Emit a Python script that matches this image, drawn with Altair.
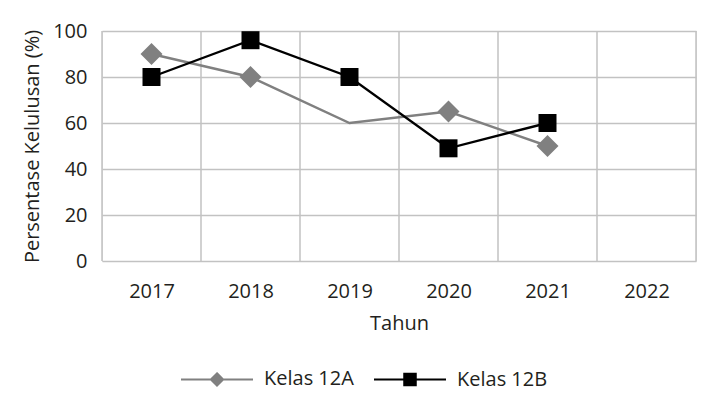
import altair as alt
import pandas as pd

# ---- data ----
years = [2017, 2018, 2019, 2020, 2021, 2022]
data_years = [2017, 2018, 2019, 2020, 2021]
kelas_12a = [90, 80, 60, 65, 50]
kelas_12b = [80, 96, 80, 49, 60]
marker_12a = [True, True, False, True, True]
marker_12b = [True, True, True, True, True]
series_names = ["Kelas 12A", "Kelas 12B"]
series_colors = ["#808080", "#000000"]
y_ticks = [0, 20, 40, 60, 80, 100]

rows = []
for yr, v, m in zip(data_years, kelas_12a, marker_12a):
    rows.append({"year": yr, "value": v, "series": series_names[0], "marker": m})
for yr, v, m in zip(data_years, kelas_12b, marker_12b):
    rows.append({"year": yr, "value": v, "series": series_names[1], "marker": m})
df = pd.DataFrame(rows)

boundaries = [y - 0.5 for y in years] + [years[-1] + 0.5]
grid_df = pd.DataFrame({"year": boundaries})
legend_df = pd.DataFrame({"series": series_names})

FONT = "Open Sans"
TXT = "#231f20"
GRID = "#c2c2c2"

x_enc = alt.X(
    "year:Q",
    scale=alt.Scale(domain=[boundaries[0], boundaries[-1]], nice=False, zero=False),
    axis=alt.Axis(values=years, format="d", grid=False, ticks=False, domain=False,
                  labelPadding=20, title="Tahun", titlePadding=12,
                  labelFontSize=20, titleFontSize=20, titleFontWeight="normal",
                  labelFont=FONT, titleFont=FONT, labelColor=TXT, titleColor=TXT),
)
y_enc = alt.Y(
    "value:Q",
    scale=alt.Scale(domain=[y_ticks[0], y_ticks[-1]], nice=False),
    axis=alt.Axis(values=y_ticks, grid=True, gridColor=GRID, gridWidth=1.5,
                  ticks=False, domain=False, labelPadding=15,
                  title="Persentase Kelulusan (%)", titlePadding=10,
                  labelFontSize=20, titleFontSize=20, titleFontWeight="normal",
                  labelFont=FONT, titleFont=FONT, labelColor=TXT, titleColor=TXT),
)

vgrid = alt.Chart(grid_df).mark_rule(color=GRID, strokeWidth=1.5).encode(x=x_enc)

def series_line(i):
    return alt.Chart(df).transform_filter(
        alt.datum.series == series_names[i]
    ).mark_line(strokeWidth=2.4, color=series_colors[i]).encode(x=x_enc, y=y_enc)

def series_points(i, shape, size):
    return alt.Chart(df).transform_filter(
        (alt.datum.series == series_names[i]) & alt.datum.marker
    ).mark_point(shape=shape, filled=True, size=size, opacity=1,
                 color=series_colors[i]).encode(x=x_enc, y=y_enc)

path_a = "M-1,0H1M0,-0.17L0.17,0L0,0.17L-0.17,0Z"
path_b = "M-1,0H1M-0.16,-0.16H0.16V0.16H-0.16Z"

leg = alt.Legend(title=None, orient="none", direction="horizontal",
                 legendX=78, legendY=311,
                 symbolSize=5184, symbolStrokeWidth=2, symbolOpacity=1,
                 labelFont=FONT, labelFontSize=20, labelColor=TXT,
                 labelOffset=10, columnPadding=16)

# invisible marks (opacity 0) that only carry the legend
legend_layer = alt.Chart(legend_df).mark_point(
    filled=True, opacity=0, strokeWidth=2
).encode(
    shape=alt.Shape("series:N", scale=alt.Scale(domain=series_names, range=[path_a, path_b]), legend=leg),
    fill=alt.Fill("series:N", scale=alt.Scale(domain=series_names, range=series_colors), legend=leg),
    stroke=alt.Stroke("series:N", scale=alt.Scale(domain=series_names, range=series_colors), legend=leg),
)

chart = alt.layer(
    vgrid,
    series_line(0), series_line(1),
    series_points(0, "diamond", 484), series_points(1, "square", 324),
    legend_layer,
).properties(
    width=594, height=230,
    autosize=alt.AutoSizeParams(type="none"),
    padding={"left": 94, "top": 23, "right": 10, "bottom": 130},
).configure_view(stroke=None).configure(font=FONT, background="white")

chart.save("out.html", embed_options={"renderer": "svg", "actions": False})
